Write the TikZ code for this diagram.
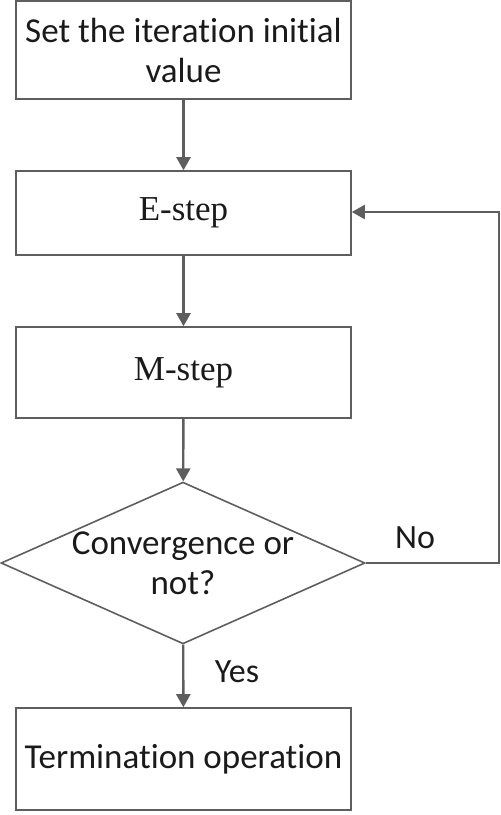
\documentclass[tikz,border=0pt]{standalone}
\usepackage{fontspec}
\setmainfont[Ligatures=NoCommon]{Carlito}
\newfontfamily\serifface{Liberation Serif}
\usetikzlibrary{shapes.geometric,arrows.meta}
\definecolor{linegray}{HTML}{5E5E5E}
\definecolor{textgray}{HTML}{1A1A1A}
\begin{document}
\begin{tikzpicture}[x=1pt,y=-1pt,
  stepbox/.style={draw=linegray,line width=1.6pt,minimum width=335pt,inner sep=0pt,text=textgray,align=center},
  decision/.style={draw=linegray,line width=1.6pt,diamond,aspect=2.25,minimum width=360pt,minimum height=160pt,inner sep=0pt,text=textgray,align=center},
  flow/.style={draw=linegray,line width=2.4pt,-{Triangle[length=13pt,width=14pt]}},
  lbl/.style={text=textgray,font=\fontsize{34}{40}\selectfont}]
\useasboundingbox (0,0) rectangle (501,815);
\node[stepbox,minimum height=98pt,font=\fontsize{35}{40}\selectfont] (init) at (183.5,50) {Set the iteration initial\\value};
\node[stepbox,minimum height=84pt,font=\serifface\fontsize{35}{40}\selectfont] (estep) at (183.5,213) {E-step};
\node[stepbox,minimum height=91pt,font=\serifface\fontsize{35}{40}\selectfont] (mstep) at (183.5,372.5) {M-step};
\node[decision,font=\fontsize{35}{40}\selectfont] (conv) at (183,563) {Convergence or\\not?};
\node[stepbox,minimum height=102pt,font=\fontsize{35}{40}\selectfont] (term) at (183.5,759) {Termination operation};
\coordinate (c1) at (499,563);
\coordinate (c2) at (499,212);
\draw[flow] (init) -- (estep);
\draw[flow] (estep) -- (mstep);
\draw[flow] (mstep) -- (conv);
\draw[flow] (conv) -- (term);
\node[lbl] (yes) at (237,672) {Yes};
\draw[draw=linegray,line width=2.4pt,-{Triangle[length=13pt,width=14pt]}] (conv.east) -- (c1) -- (c2) -- (estep.east |- c2);
\node[lbl] (no) at (415,538) {No};
\end{tikzpicture}
\end{document}
